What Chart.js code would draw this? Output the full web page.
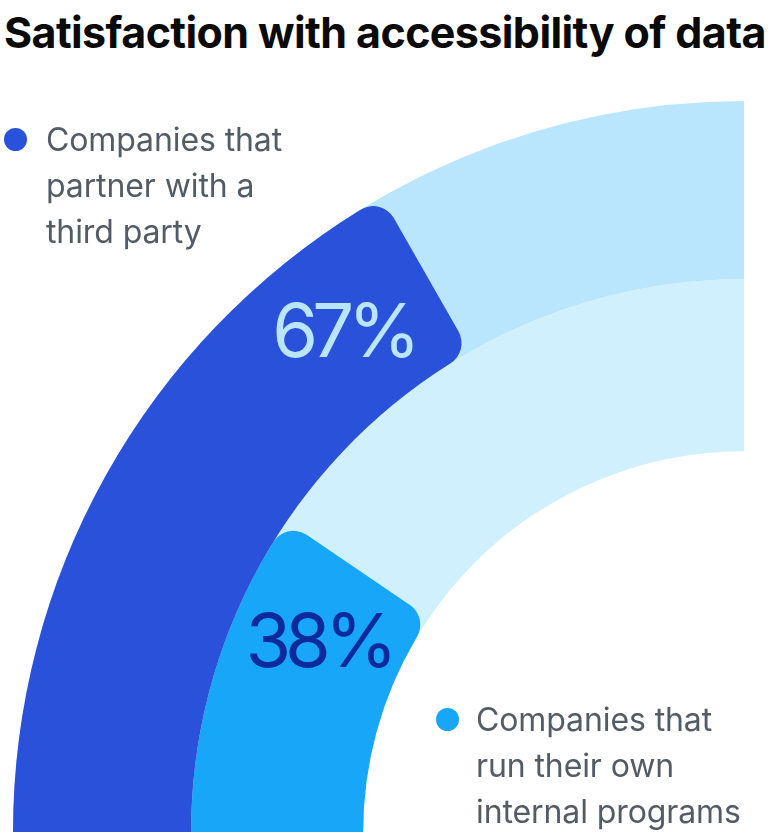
<!DOCTYPE html>
<html>
<head>
<meta charset="utf-8">
<script src="https://cdn.jsdelivr.net/npm/chart.js@4.4.1/dist/chart.umd.min.js"></script>
<style>
  html, body { margin: 0; padding: 0; background: #fff; }
  #page { position: relative; width: 772px; height: 833px; overflow: hidden; font-family: Inter, "Noto Sans", sans-serif; }
  #title { position: absolute; left: 4px; top: 10px; font-size: 43px; line-height: 44px; font-weight: 700; color: #0a0a0a; letter-spacing: -0.6px; white-space: nowrap; }
  .legend { position: absolute; font-size: 32px; line-height: 46px; color: #535b64; letter-spacing: -0.1px; }
  .dot { position: absolute; width: 23px; height: 23px; border-radius: 50%; }
  canvas { position: absolute; left: 13px; top: 101px; }
</style>
</head>
<body>
<div id="page">
  <canvas id="track" width="731" height="731"></canvas>
  <canvas id="canvas" width="731" height="731"></canvas>
  <div id="title">Satisfaction with accessibility of data</div>
  <div class="dot" style="left:4px; top:128px; background:#2951d9"></div>
  <div class="legend" style="left:46px; top:117px">Companies that<br>partner with a<br>third party</div>
  <div class="dot" style="left:436px; top:708px; background:#17a6f8"></div>
  <div class="legend" style="left:476px; top:697px">Companies that<br>run their own<br>internal programs</div>
</div>
<script>
var groups = ["Companies that partner with a third party", "Companies that run their own internal programs"];
var satisfied = [67, 38];
var barColors = ['#2951d9', '#17a6f8'];
var trackColors = ['#bae6fd', '#d1f0fd'];
var labelColors = ['#bae6fd', '#0b2a9c'];
var ringWeights = [178, 172];
var labelShift = [8.9, 9.9]; // degrees back from the end of the bar

var common = {
  responsive: false,
  animation: false,
  events: [],
  rotation: -90,
  circumference: 90,
  cutout: '52.1%',
  layout: { padding: 0 },
  plugins: { legend: { display: false }, tooltip: { enabled: false } }
};

new Chart(document.getElementById('track'), {
  type: 'doughnut',
  data: {
    labels: ['all'],
    datasets: groups.map(function(g, i) {
      return { label: g, data: [100], backgroundColor: trackColors[i], borderWidth: 0, weight: ringWeights[i] };
    })
  },
  options: common
});

var arcLabels = {
  id: 'arcLabels',
  afterDatasetsDraw: function(chart) {
    var ctx = chart.ctx;
    var size = 74;
    ctx.save();
    ctx.font = '400 ' + size + 'px Inter';
    ctx.letterSpacing = '-6px';
    ctx.textAlign = 'center';
    ctx.textBaseline = 'alphabetic';
    chart.data.datasets.forEach(function(ds, i) {
      var arc = chart.getDatasetMeta(i).data[0];
      var p = arc.getProps(['x', 'y', 'endAngle', 'innerRadius', 'outerRadius']);
      var a = p.endAngle - labelShift[i] * Math.PI / 180;
      var r = (p.innerRadius + p.outerRadius) / 2;
      ctx.fillStyle = labelColors[i];
      ctx.fillText(ds.data[0] + '%', p.x + r * Math.cos(a), p.y + r * Math.sin(a) + size * 0.727 / 2);
    });
    ctx.restore();
  }
};

new Chart(document.getElementById('canvas'), {
  type: 'doughnut',
  data: {
    labels: ['Satisfied', 'Rest'],
    datasets: groups.map(function(g, i) {
      return {
        label: g,
        data: [satisfied[i], 100 - satisfied[i]],
        backgroundColor: [barColors[i], 'rgba(0,0,0,0)'],
        borderWidth: 0,
        weight: ringWeights[i],
        borderRadius: [{ outerStart: 0, innerStart: 0, outerEnd: 24, innerEnd: 24 }, 0]
      };
    })
  },
  options: common,
  plugins: [arcLabels]
});
</script>
</body>
</html>
